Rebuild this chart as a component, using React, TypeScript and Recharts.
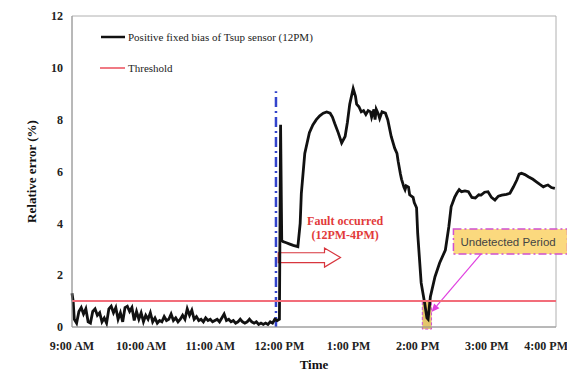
import React from 'react';
import { LineChart, Line, XAxis, YAxis, ReferenceLine, ReferenceArea } from 'recharts';

// minutes after 9:00 AM, before the fault (9:00 AM - 12:00 PM)
const normalMinutes = [
  0, 1, 2, 4, 6, 8, 10, 12, 14, 16, 18, 20, 22, 24, 26, 28, 30, 32, 34, 36, 38,
  40, 42, 44, 46, 48, 50, 52, 54, 56, 58, 60, 62, 64, 66, 68, 70, 72, 74, 76, 78,
  80, 82, 84, 86, 88, 90, 92, 94, 96, 98, 100, 102, 104, 106, 108, 110, 112, 114,
  116, 118, 120, 122, 124, 126, 128, 130, 132, 134, 136, 138, 140, 142, 144, 146,
  148, 150, 152, 154, 156, 158, 160, 162, 164, 166, 168, 170, 172, 174, 176, 178,
  180,
];
const normalError = [
  1.3, 1.0, 0.3, 0.15, 0.6, 0.75, 0.5, 0.7, 0.2, 0.15, 0.6, 0.7, 0.45, 0.55, 0.2, 0.35, 0.15, 0.7, 0.8, 0.55, 0.75,
  0.3, 0.55, 0.2, 0.75, 0.8, 0.6, 0.75, 0.25, 0.6, 0.3, 0.55, 0.2, 0.45, 0.3, 0.55, 0.2, 0.35, 0.15, 0.25, 0.2,
  0.4, 0.25, 0.3, 0.5, 0.25, 0.35, 0.2, 0.3, 0.45, 0.3, 0.7, 0.45, 0.65, 0.3, 0.4, 0.25, 0.3, 0.2,
  0.35, 0.25, 0.3, 0.2, 0.25, 0.3, 0.2, 0.35, 0.5, 0.25, 0.3, 0.2, 0.25, 0.15, 0.2, 0.3,
  0.2, 0.15, 0.2, 0.3, 0.2, 0.15, 0.2, 0.1, 0.15, 0.1, 0.15, 0.1, 0.2, 0.15, 0.3, 0.25,
  0.3,
];

// minutes after 9:00 AM, with the fault (12:00 PM - 4:00 PM)
const faultMinutes = [
  181, 182, 183, 186, 189, 192, 196, 198, 199, 202,
  206, 209, 212, 215, 218, 221, 224, 226, 228, 231,
  234, 237, 239, 241, 244, 246, 247, 249, 251, 253,
  255, 257, 259, 260, 262, 263, 264, 266, 267, 269,
  272, 274, 277, 280, 282, 283, 285, 286, 287, 288,
  289, 290, 292, 293, 296, 297, 299, 300, 303, 306,
  308, 309, 311, 315, 319, 324, 327, 329, 332, 334,
  336, 338, 341, 344, 347, 350, 353, 355, 358, 361,
  364, 367, 370, 373, 377, 380, 383, 386, 388, 390,
  393, 396, 400, 403, 406, 409, 411, 413, 416, 419,
];
const faultError = [
  7.8, 3.35, 3.3, 3.25, 3.2, 3.15, 3.1, 4.0, 5.15, 6.7,
  7.5, 7.8, 8.0, 8.15, 8.25, 8.3, 8.25, 8.1, 7.85, 7.5,
  7.1, 7.35, 7.9, 8.6, 9.2, 8.9, 8.6, 8.5, 8.3, 8.35,
  8.2, 8.35, 8.3, 8.1, 8.4, 8.0, 8.4, 8.2, 8.05, 8.3,
  8.25, 8.0, 7.35, 6.9, 6.7, 6.4, 5.9, 5.7, 5.55, 5.4,
  5.3, 5.45, 5.4, 5.1, 5.0, 4.8, 4.6, 3.6, 1.7, 0.93,
  0.35, 0.3, 1.17, 1.94, 2.47, 2.97, 3.87, 4.64, 5.0, 5.17,
  5.3, 5.22, 5.25, 5.22, 5.0, 4.98, 5.1, 5.09, 5.2, 5.22,
  5.0, 4.9, 5.05, 5.09, 5.12, 5.16, 5.4, 5.67, 5.9, 5.93,
  5.88, 5.8, 5.7, 5.6, 5.5, 5.41, 5.45, 5.48, 5.38, 5.35,
];

const hourTicks = [0, 60, 120, 180, 240, 300, 360, 420];
const hourLabels = ['9:00 AM', '10:00 AM', '11:00 AM', '12:00 PM', '1:00 PM', '2:00 PM', '3:00 PM', '4:00 PM'];
const yTicks = [0, 2, 4, 6, 8, 10, 12];
const threshold = 1;
const faultLineAt = 177;
const faultLineTop = 9.1;

const minutes = [...normalMinutes, ...faultMinutes];
const relError = [...normalError, ...faultError];
const data = minutes.map((t, i) => ({ t, err: relError[i] }));

const serif = 'Liberation Serif, Times New Roman, serif';
const tickStyle = { fontFamily: serif, fontWeight: 700, fontSize: 12, fill: '#222' };

const HollowArrow = (p: any) => {
  const { x, y, width: w, height: h } = p;
  const head = 16;
  const bt = y + h * 0.25;
  const bb = y + h * 0.76;
  const pts = [
    [x, bt], [x + w - head, bt], [x + w - head, y], [x + w, y + h / 2],
    [x + w - head, y + h], [x + w - head, bb], [x, bb],
  ].map((q) => q.join(',')).join(' ');
  return <polygon points={pts} fill="#fff" stroke="#d8363e" strokeWidth={1.2} />;
};

const PointerArrow = (p: any) => {
  const { x, y, width: w, height: h } = p;
  const x0 = x + w, y0 = y, x1 = x, y1 = y + h;
  const len = Math.hypot(x1 - x0, y1 - y0);
  const ux = (x1 - x0) / len, uy = (y1 - y0) / len;
  const hl = 8, hw = 3.5;
  const bx = x1 - ux * hl, by = y1 - uy * hl;
  const pts = `${x1},${y1} ${bx - uy * hw},${by + ux * hw} ${bx + uy * hw},${by - ux * hw}`;
  return (
    <g>
      <line x1={x0} y1={y0} x2={bx} y2={by} stroke="#e040e0" strokeWidth={1.2} />
      <polygon points={pts} fill="#e040e0" />
    </g>
  );
};

const FaultText = (p: any) => {
  const cx = p.x + p.width / 2;
  return (
    <g fontFamily={serif} fontWeight={700} fontSize={12} fill="#e23a3a" textAnchor="middle">
      <text x={cx} y={p.y + 4}>Fault occurred</text>
      <text x={cx} y={p.y + 18}>(12PM-4PM)</text>
    </g>
  );
};

const Legend = () => (
  <svg width={567} height={90} style={{ position: 'absolute', left: 0, top: 0, pointerEvents: 'none' }}>
    <line x1={101} y1={37} x2={125} y2={37} stroke="#111" strokeWidth={2.5} />
    <text x={128} y={41} fontFamily={serif} fontSize={11} fill="#222">Positive fixed bias of Tsup sensor (12PM)</text>
    <line x1={100} y1={68} x2={125} y2={68} stroke="#f07a84" strokeWidth={2} />
    <text x={128} y={72} fontFamily={serif} fontSize={11} fill="#222">Threshold</text>
  </svg>
);

export default function App() {
  return (
    <div style={{ position: 'absolute', left: 0, top: 0, width: 567, height: 371, background: '#fff' }}>
      <LineChart width={567} height={371} data={data} margin={{ top: 16, right: 11, bottom: 0, left: 0 }}>
        <XAxis
          dataKey="t"
          type="number"
          domain={[0, 420]}
          ticks={hourTicks}
          tickFormatter={(v: number) => hourLabels[v / 60]}
          tick={tickStyle}
          tickLine={false}
          tickSize={0}
          tickMargin={14}
          height={44}
          axisLine={{ stroke: '#9a9a9a' }}
          label={{ value: 'Time', position: 'insideBottom', offset: 2, style: { ...tickStyle, fontSize: 13, fill: '#111' } }}
        />
        <YAxis
          type="number"
          domain={[0, 12]}
          ticks={yTicks}
          tick={tickStyle}
          tickLine={false}
          tickSize={0}
          tickMargin={9}
          width={72}
          axisLine={{ stroke: '#9a9a9a' }}
          label={{ value: 'Relative error (%)', angle: -90, position: 'insideLeft', offset: 31, style: { ...tickStyle, fontSize: 13, fill: '#111', textAnchor: 'middle' } }}
        />
        <ReferenceArea x1={0} x2={420} y1={0} y2={12} fill="none" stroke="#b0b0b0" strokeWidth={1} />
        <ReferenceLine
          segment={[{ x: faultLineAt, y: 0 }, { x: faultLineAt, y: faultLineTop }]}
          stroke="#3344cc"
          strokeWidth={2.5}
          strokeDasharray="10 4 2 4"
        />
        <Line type="linear" dataKey="err" stroke="#111" strokeWidth={2.8} dot={false} isAnimationActive={false} />
        <ReferenceLine y={threshold} stroke="#f26d7a" strokeWidth={2} />
        <ReferenceArea x1={179} x2={233} y1={2.31} y2={3.05} shape={HollowArrow} />
        <ReferenceArea x1={236} x2={238} y1={3.9} y2={4.1} shape={FaultText} />
        <ReferenceArea
          x1={304} x2={312} y1={-0.08} y2={0.98}
          ifOverflow="visible"
          fill="#d8ac2c" fillOpacity={0.7}
          stroke="#d050d0" strokeDasharray="3 2"
        />
        <ReferenceArea
          x1={331} x2={430} y1={2.82} y2={3.78}
          ifOverflow="visible"
          fill="#fbd97e" fillOpacity={1}
          stroke="#d050d0" strokeWidth={1.5} strokeDasharray="8 3 2 3"
          label={{ value: 'Undetected Period', position: 'insideLeft', offset: 7, style: { fontFamily: 'Liberation Sans, Arial, sans-serif', fontSize: 11.5, fill: '#444' } }}
        />
        <ReferenceArea x1={312} x2={355} y1={0.58} y2={2.82} ifOverflow="visible" shape={PointerArrow} />
      </LineChart>
      <Legend />
    </div>
  );
}
